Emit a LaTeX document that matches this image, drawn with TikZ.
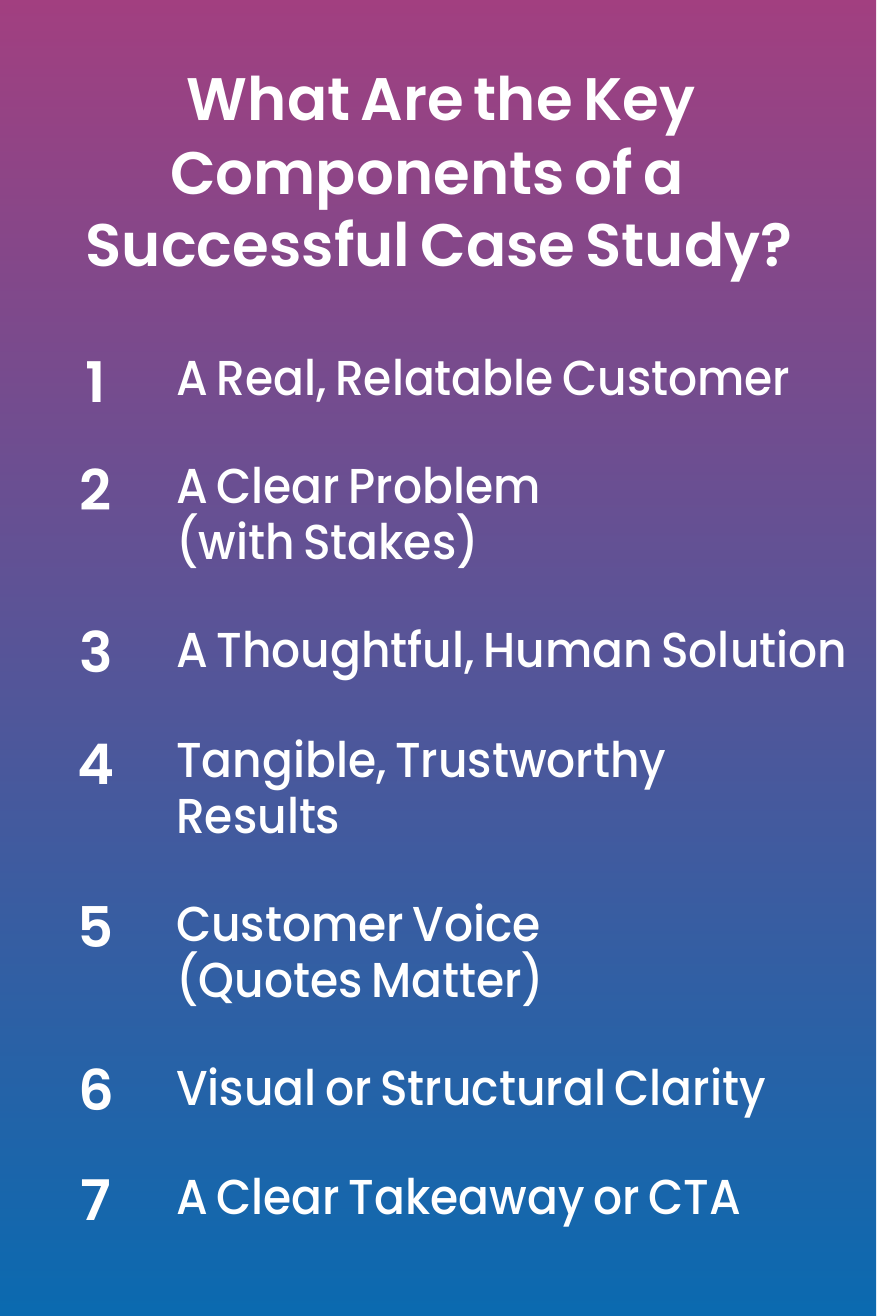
\documentclass[tikz,border=0pt]{standalone}
\usepackage{fontspec}
\setmainfont{Poppins}[UprightFont=* Medium, BoldFont=* SemiBold, WordSpace=0.72]
\usepackage{xcolor}
\usetikzlibrary{positioning}
\definecolor{topshade}{HTML}{A23F80}
\definecolor{midshade}{HTML}{4A5599}
\definecolor{lowshade}{HTML}{0A6AB0}
\tikzset{
    heading/.style={text=white, font=\fontsize{60}{72}\selectfont\bfseries, anchor=base, inner sep=0pt, xscale=0.99, transform shape},
    number/.style={text=white, font=\fontsize{56}{66}\selectfont\bfseries, anchor=base, inner sep=0pt},
    itemtext/.style={text=white, font=\fontsize{49}{56}\selectfont, anchor=base west, inner sep=0pt, align=left, xscale=0.93, transform shape}
}

\begin{document}
\begin{tikzpicture}[x=1pt, y=-1pt]
    \shade [top color=topshade, middle color=midshade, bottom color=lowshade] (0,0) rectangle (876,1316);
    \useasboundingbox (0,0) rectangle (876,1316);

    \node (titlea) [heading] at (441,121) {What Are the Key};
    \node (titleb) [heading] at (427,194) {Components of a};
    \node (titlec) [heading] at (439,266) {Successful Case Study?};

    \node (numa) [number] at (96,402) {1};
    \node (itema) [itemtext] at (176,395) {A Real, Relatable Customer};
    \node (numb) [number] at (96,510) {2};
    \node (itemb) [itemtext] at (176,559) {A Clear Problem\\(with Stakes)};
    \node (numc) [number] at (96,672) {3};
    \node (itemc) [itemtext] at (176,667) {A Thoughtful, Human Solution};
    \node (numd) [number] at (96,784) {4};
    \node (itemd) [itemtext] at (176,833) {Tangible, Trustworthy\\Results};
    \node (nume) [number] at (96,947) {5};
    \node (iteme) [itemtext] at (176,997) {Customer Voice\\(Quotes Matter)};
    \node (numf) [number] at (96,1110) {6};
    \node (itemf) [itemtext] at (176,1105) {Visual or Structural Clarity};
    \node (numg) [number] at (96,1220) {7};
    \node (itemg) [itemtext] at (176,1214) {A Clear Takeaway or CTA};
\end{tikzpicture}
\end{document}
